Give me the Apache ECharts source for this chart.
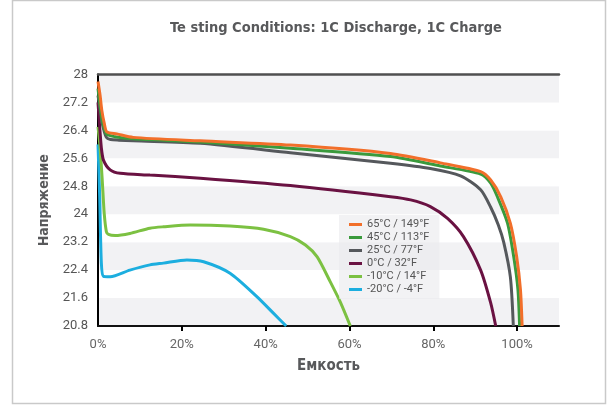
<!DOCTYPE html>
<html>
<head>
<meta charset="utf-8">
<script src="https://cdn.jsdelivr.net/npm/echarts@6/dist/echarts.min.js"></script>
<style>html,body{margin:0;padding:0;background:#fff}#c{width:613px;height:406px}</style>
</head>
<body>
<div id="c"></div>
<script>
var seriesNames = ['65°C / 149°F','45°C / 113°F','25°C / 77°F','0°C / 32°F','-10°C / 14°F','-20°C / -4°F'];
var xTickValues = [0,20,40,60,80,100];

var x65 = [0,0.5,0.9,1.5,2.1,4.5,8.4,24.4,45.9,69.8,81.7,91.3,93.7,96.1,98.4,99.9,100.8,101.2];
var v65 = [27.8,27.4,26.98,26.6,26.36,26.3,26.2,26.1,25.98,25.74,25.47,25.22,24.98,24.5,23.74,22.78,21.84,20.8];

var x45 = [0,0.5,1,2,4,8.4,24.4,45.9,69.8,81.7,91.3,93.7,95.3,97.7,99.2,100.2,100.6];
var v45 = [27.6,27.1,26.7,26.3,26.22,26.16,26.07,25.89,25.65,25.38,25.15,24.89,24.5,23.75,22.78,21.84,20.8];

var x25 = [0,0.5,1,2,3,5,8.4,24.4,45.9,69.8,79.3,86.5,91.3,93.7,95.5,96.8,98.4,99.1];
var v25 = [27.4,27.0,26.6,26.2,26.14,26.12,26.1,26.03,25.76,25.46,25.31,25.1,24.7,24.2,23.7,23.2,22.2,20.8];

var x0 = [0,0.4,0.8,1.3,2.9,5.3,12.4,24.4,45.9,69.8,74.6,79.3,83.4,87.2,91.3,93.7,94.9];
var v0 = [27.2,26.5,25.9,25.55,25.27,25.17,25.12,25.03,24.82,24.5,24.41,24.22,23.88,23.36,22.4,21.46,20.8];

var xm10 = [0,0.5,1,1.5,2,2.5,4.1,7.6,12.4,15.6,22,31.5,39.5,45.9,49.5,52.3,55.4,57.8,60.2];
var vm10 = [26.5,25.9,25.0,24.0,23.5,23.42,23.39,23.45,23.6,23.64,23.69,23.66,23.57,23.36,23.12,22.78,22.07,21.49,20.8];

var xm20 = [0,0.4,0.8,1.3,2.9,7.6,12.4,15.6,21.2,25.2,31.5,37.9,41.9,44.9];
var vm20 = [26.0,24.5,22.6,22.22,22.21,22.4,22.55,22.6,22.69,22.64,22.31,21.64,21.16,20.8];

var colors = ['#f26f2a','#3a9a3c','#55585c','#6a1242','#7cc142','#1caedf'];

function zip(xs, ys){ return xs.map(function(x,i){ return [x, ys[i]]; }); }
var dataSets = [zip(x65,v65), zip(x45,v45), zip(x25,v25), zip(x0,v0), zip(xm10,vm10), zip(xm20,vm20)];

var FONT = "'DejaVu Sans Condensed','Roboto',sans-serif";
var series = [];
for (var i = dataSets.length - 1; i >= 0; i--) {
  series.push({
    name: seriesNames[i], type: 'line', data: dataSets[i],
    showSymbol: false, smooth: 0.25,
    lineStyle: { color: colors[i], width: 3 }, itemStyle: { color: colors[i] },
    clip: true
  });
}

var chart = echarts.init(document.getElementById('c'), null, { renderer: 'canvas' });
chart.setOption({
  animation: false,
  title: {
    text: 'Te sting Conditions: 1C Discharge, 1C Charge',
    left: 331, top: 16, textAlign: 'center',
    textStyle: { fontFamily: FONT, fontWeight: 'bold', fontSize: 14.5, color: '#58595b' }
  },
  graphic: [{
    type: 'rect', shape: { x: 12.5, y: 0.5, width: 593, height: 403 },
    style: { fill: 'none', stroke: '#c9c9c9', lineWidth: 1.5 }, silent: true, z: -1
  }],
  legend: {
    orient: 'vertical', left: 339, top: 215,
    data: seriesNames, icon: 'rect', itemWidth: 13, itemHeight: 3, itemGap: 2,
    padding: [4, 10, 4, 10],
    backgroundColor: 'rgba(234,234,236,0.6)',
    textStyle: { fontFamily: 'Roboto, sans-serif', fontSize: 11, color: '#555' }
  },
  grid: { left: 98, right: 54, top: 74.5, bottom: 80 },
  xAxis: [{
    type: 'value', min: 0, max: 110, interval: 20,
    name: 'Емкость', nameLocation: 'middle', nameGap: 33,
    nameTextStyle: { fontFamily: FONT, fontWeight: 'bold', fontSize: 15, color: '#58595b' },
    axisLine: { show: true, lineStyle: { color: '#111', width: 2 } },
    axisTick: { show: true, customValues: [20,40,60,80,100], length: 5, lineStyle: { color: '#000', width: 2 } },
    axisLabel: { customValues: xTickValues, margin: 12, fontSize: 13, color: '#666', fontFamily: 'Roboto, sans-serif',
      formatter: function(v){ return v + '%'; } },
    splitLine: { show: false }
  }, {
    type: 'value', min: 0, max: 110, position: 'top',
    axisLine: { show: true, lineStyle: { color: '#505050', width: 2.5 } },
    axisTick: { show: false }, axisLabel: { show: false }, splitLine: { show: false }
  }],
  yAxis: [{
    type: 'value', min: 20.8, max: 28, interval: 0.8,
    name: 'Напряжение', nameLocation: 'middle', nameGap: 45,
    nameTextStyle: { fontFamily: FONT, fontWeight: 'bold', fontSize: 14, color: '#58595b' },
    axisLine: { show: true, lineStyle: { color: '#000', width: 2 } },
    axisTick: { show: false },
    axisLabel: { margin: 10, fontSize: 13, color: '#555', fontFamily: 'Roboto, sans-serif',
      formatter: function(v){ return String(Math.round(v * 10) / 10); } },
    splitLine: { show: false },
    splitArea: { show: true, areaStyle: { color: ['#f2f2f4', '#ffffff'] } }
  }, {
    type: 'value', min: 20.8, max: 28, position: 'right',
    axisLine: { show: true, lineStyle: { color: '#000', width: 1.5 } },
    axisTick: { show: false }, axisLabel: { show: false }, splitLine: { show: false }
  }],
  series: series
});
</script>
</body>
</html>
